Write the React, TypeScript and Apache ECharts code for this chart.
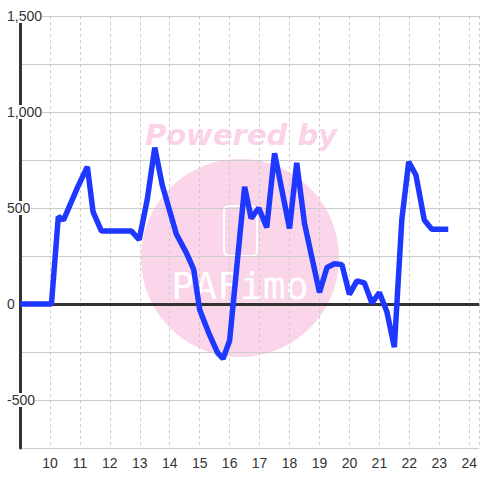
import React, { useEffect, useRef } from "react";
import * as echarts from "echarts";

// time of day (hours) and value
const hours = [9.0, 10.05, 10.28, 10.45, 10.6, 10.9, 11.25, 11.44, 11.72, 12.72, 12.98, 13.25, 13.5, 13.75, 14.22, 14.56, 14.8, 15.0, 15.3, 15.6, 15.78, 16.0, 16.5, 16.72, 16.97, 17.24, 17.5, 18.0, 18.24, 18.5, 19.0, 19.25, 19.5, 19.75, 20.0, 20.25, 20.5, 20.75, 21.0, 21.25, 21.5, 21.75, 21.98, 22.22, 22.5, 22.75, 23.3];
const values = [0, 0, 455, 437, 490, 600, 715, 480, 380, 380, 335, 545, 815, 620, 365, 265, 180, -30, -150, -255, -285, -190, 610, 446, 500, 399, 785, 394, 735, 420, 60, 190, 210, 205, 50, 120, 110, 5, 60, -40, -225, 440, 740, 672, 437, 389, 389];

const yTickLabels = ["1,500", "1,000", "500", "0", "-500"];
const yTickValues = [1500, 1000, 500, 0, -500];

const FONT = "'Liberation Sans', Arial, sans-serif";

export default function App() {
  const ref = useRef<HTMLDivElement>(null);
  useEffect(() => {
    if (!ref.current) return;
    const chart = echarts.init(ref.current, null, { renderer: "svg" });
    const data = hours.map((h, i) => [h, values[i]]);
    chart.setOption({
      animation: false,
      grid: { left: 20, right: 0, top: 16, bottom: 32, containLabel: false },
      graphic: [
        {
          type: "circle",
          z: -10,
          silent: true,
          shape: { cx: 240, cy: 258, r: 99 },
          style: { fill: "#fbd6eb" },
        },
        {
          type: "rect",
          z: -9,
          silent: true,
          shape: { x: 224, y: 206, width: 33, height: 50, r: 5 },
          style: { fill: "none", stroke: "#ffffff", lineWidth: 2 },
        },
        {
          type: "text",
          z: -9,
          silent: true,
          x: 240,
          y: 286,
          style: {
            text: "PAFimo",
            fill: "#ffffff",
            font: "38px 'DejaVu Sans Mono', monospace",
            align: "center",
            verticalAlign: "middle",
          },
        },
        {
          type: "text",
          z: -9,
          silent: true,
          x: 241,
          y: 135,
          style: {
            text: "Powered by",
            fill: "#fbd3e9",
            font: "italic bold 29px 'DejaVu Sans', Verdana, sans-serif",
            align: "center",
            verticalAlign: "middle",
          },
        },
      ],
      xAxis: {
        type: "value",
        min: 9,
        max: 24.333,
        interval: 1,
        axisLine: { show: false },
        axisTick: { show: false },
        axisLabel: {
          color: "#333",
          fontSize: 14,
          fontFamily: FONT,
          margin: 8,
          showMaxLabel: false,
          formatter: (v: number) =>
            Number.isInteger(v) && v >= 10 ? String(v) : "",
        },
        splitLine: {
          show: true,
          lineStyle: { color: "#cccccc", type: [3, 3], width: 1 },
        },
      },
      yAxis: {
        type: "value",
        min: -750,
        max: 1500,
        interval: 250,
        axisLine: { show: true, lineStyle: { color: "#333333", width: 3 } },
        axisTick: { show: false },
        axisLabel: {
          color: "#333",
          fontSize: 14,
          fontFamily: FONT,
          align: "left",
          margin: 13,
          backgroundColor: "#ffffff",
          formatter: (v: number) => {
            const idx = yTickValues.indexOf(v);
            return idx >= 0 ? yTickLabels[idx] : "";
          },
        },
        splitLine: { show: true, lineStyle: { color: "#cccccc", width: 1 } },
      },
      series: [
        {
          type: "line",
          data: [],
          z: 1,
          silent: true,
          markLine: {
            silent: true,
            symbol: "none",
            label: { show: false },
            lineStyle: { color: "#333333", width: 3, type: "solid" },
            data: [{ yAxis: 0 }],
          },
        },
        {
          type: "line",
          data,
          showSymbol: false,
          symbol: "none",
          lineStyle: { color: "#1f38ff", width: 5.5 },
          z: 5,
        },
      ],
    });
    return () => chart.dispose();
  }, []);
  return <div ref={ref} style={{ width: 480, height: 480, position: "absolute", left: 0, top: 0 }} />;
}
